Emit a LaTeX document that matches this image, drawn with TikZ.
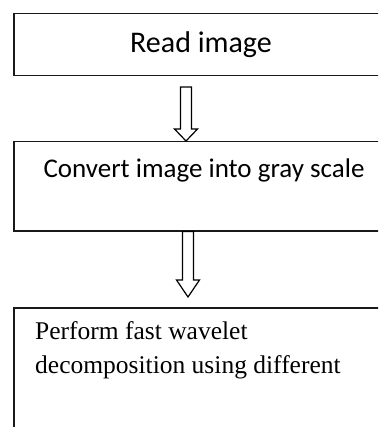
\documentclass[tikz,border=0pt]{standalone}
\usepackage{fontspec}
\setmainfont{Liberation Serif}
\newfontfamily\boxsans{Carlito}
\usetikzlibrary{calc}

\tikzset{
  stepbox/.style={draw=black!90, line width=1.5pt, inner sep=0pt, anchor=north west},
  sanslabel/.style={font=\boxsans, inner sep=0pt, anchor=base},
  seriflabel/.style={font=\fontsize{25.5}{34}\selectfont, inner sep=0pt, anchor=base west},
  arrowline/.style={draw=black, line width=1.2pt, line join=miter, fill=white}
}

% hollow block arrow from #1 (shaft top) down to #2 (tip); #3 head length
\newcommand\hollowarrow[3]{%
  \draw[arrowline] ($(#1)+(-5.5,0)$) -- ($(#2)+(-5.5,#3)$) -- ($(#2)+(-11.5,#3)$) -- (#2)
    -- ($(#2)+(11.5,#3)$) -- ($(#2)+(5.5,#3)$) -- ($(#1)+(5.5,0)$) -- cycle;}

\begin{document}
\begin{tikzpicture}[x=1pt,y=1pt]
  \useasboundingbox (0,0) rectangle (378,-427);
  \clip (0,0) rectangle (378,-427);

  % three process boxes, running off the right edge
  \node[stepbox, minimum width=380pt, minimum height=62pt] (b1) at (13,-13) {};
  \node[sanslabel, font=\boxsans\fontsize{30}{36}\selectfont] (t1) at (201,-53) {Read image};

  \node[stepbox, minimum width=380pt, minimum height=89pt] (b2) at (13,-141) {};
  \node[sanslabel, font=\boxsans\fontsize{27}{33}\selectfont] (t2) at (204,-178) {Convert image into gray scale};

  \node[stepbox, minimum width=400pt, minimum height=140pt] (b3) at (13,-307) {};
  \node[seriflabel] (t3a) at (35,-339) {Perform fast wavelet};
  \node[seriflabel] (t3b) at (35,-373) {decomposition using different};

  % connectors between the boxes
  \coordinate (a1s) at (186,-87);
  \coordinate (a1e) at (b2.north -| a1s);
  \hollowarrow{a1s}{a1e}{12}

  \coordinate (a2s) at (b2.south -| 188,0);
  \coordinate (a2e) at (188,-297);
  \hollowarrow{a2s}{a2e}{17}
\end{tikzpicture}
\end{document}
